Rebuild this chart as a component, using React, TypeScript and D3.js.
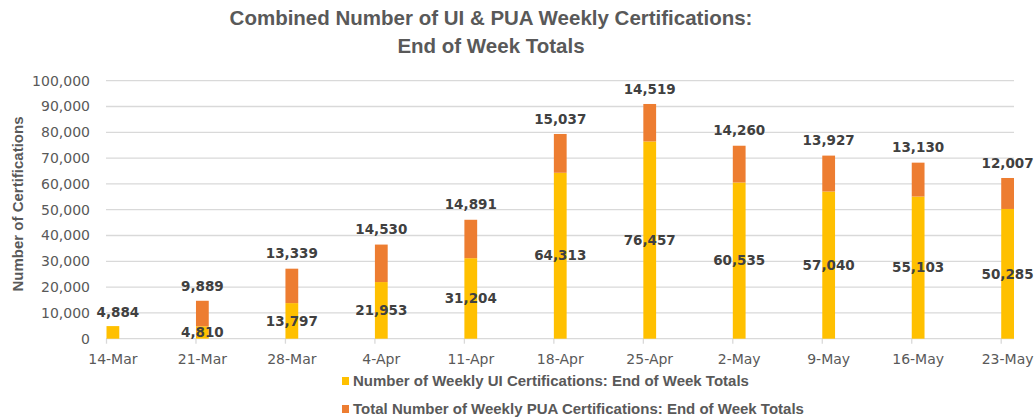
import React from "react";
import * as d3 from "d3";

const weeks: string[] = ["2020-03-14", "2020-03-21", "2020-03-28", "2020-04-04", "2020-04-11", "2020-04-18", "2020-04-25", "2020-05-02", "2020-05-09", "2020-05-16", "2020-05-23"];
const uiValues: number[] = [4884, 4810, 13797, 21953, 31204, 64313, 76457, 60535, 57040, 55103, 50285];
const puaValues: number[] = [0, 9889, 13339, 14530, 14891, 15037, 14519, 14260, 13927, 13130, 12007];
const yTicks: number[] = [0, 10000, 20000, 30000, 40000, 50000, 60000, 70000, 80000, 90000, 100000];
const titleLines: string[] = ["Combined Number of UI & PUA Weekly Certifications:", "End of Week Totals"];
const legendLabels: string[] = [
  "Number of Weekly UI Certifications: End of Week Totals",
  "Total Number of Weekly PUA Certifications: End of Week Totals",
];

const W = 1034;
const H = 420;
const TEXT = "#595959";
const LABEL = "#404040";
const GRID = "#D9D9D9";
const UI_COLOR = "#FFC000";
const PUA_COLOR = "#ED7D31";

export default function App() {
  const parse = d3.utcParse("%Y-%m-%d");
  const dates = weeks.map((w) => parse(w) as Date);
  const start = dates[0];
  const end = d3.utcDay.offset(dates[dates.length - 1], 1);
  const x = d3.scaleUtc().domain([start, end]).range([106.5, 1014]);
  const y = d3.scaleLinear().domain([0, 100000]).range([338.7, 80.7]);
  const fmt = d3.format(",");
  const dfmt = d3.utcFormat("%-d-%b");

  const bars = dates.map((d, i) => {
    const x0 = x(d);
    const x1 = x(d3.utcDay.offset(d, 1));
    return { d, i, x0, x1, cx: (x0 + x1) / 2, ui: uiValues[i], pua: puaValues[i] };
  });

  const tickFont = "'DejaVu Sans', sans-serif";
  const calFont = "'Liberation Sans', Arial, sans-serif";

  return (
    <svg width={W} height={H} style={{ position: "absolute", left: 0, top: 0, background: "#fff" }}>
      <rect x={0} y={0} width={W} height={H} fill="#fff" />
      {titleLines.map((t, i) => (
        <text key={i} x={491} y={25 + i * 28} textAnchor="middle" fontFamily={calFont} fontWeight="bold" fontSize={20.5} fill={TEXT}>
          {t}
        </text>
      ))}
      {yTicks.map((t) => (
        <g key={t}>
          <line x1={106} x2={1014} y1={y(t)} y2={y(t)} stroke={GRID} strokeWidth={1.3} />
          <text x={90} y={y(t)} dy="0.35em" textAnchor="end" fontFamily={tickFont} fontSize={14} fill={TEXT}>
            {fmt(t)}
          </text>
        </g>
      ))}
      <text transform={`translate(23,204) rotate(-90)`} textAnchor="middle" fontFamily={calFont} fontWeight="bold" fontSize={15} fill={TEXT}>
        Number of Certifications
      </text>
      {bars.map((b) => (
        <g key={b.i}>
          <line x1={b.x0} x2={b.x0} y1={y(0)} y2={y(0) + 5} stroke={GRID} strokeWidth={1.3} />
          <rect x={b.x0} width={b.x1 - b.x0} y={y(b.ui)} height={y(0) - y(b.ui)} fill={UI_COLOR} />
          {b.pua > 0 && (
            <rect x={b.x0} width={b.x1 - b.x0} y={y(b.ui + b.pua)} height={y(b.ui) - y(b.ui + b.pua)} fill={PUA_COLOR} />
          )}
          <text x={b.cx} y={y(0) + 25} textAnchor="middle" fontFamily={tickFont} fontSize={14} fill={TEXT}>
            {dfmt(b.d)}
          </text>
        </g>
      ))}
      {bars.map((b) => (
        <g key={"l" + b.i}>
          <text
            x={b.pua > 0 ? b.cx : b.cx + 5}
            y={b.pua > 0 ? (y(0) + y(b.ui)) / 2 : y(b.ui) - 14}
            dy="0.35em"
            textAnchor="middle"
            fontFamily={tickFont}
            fontWeight="bold"
            fontSize={13.5}
            fill={LABEL}
          >
            {fmt(b.ui)}
          </text>
          {b.pua > 0 && (
            <text x={b.cx} y={y(b.ui + b.pua) - 15} dy="0.35em" textAnchor="middle" fontFamily={tickFont} fontWeight="bold" fontSize={13.5} fill={LABEL}>
              {fmt(b.pua)}
            </text>
          )}
        </g>
      ))}
      {legendLabels.map((l, i) => (
        <g key={l} transform={`translate(342,${381 + i * 28})`}>
          <rect x={0} y={-4} width={7} height={8} fill={i === 0 ? UI_COLOR : PUA_COLOR} />
          <text x={11} y={0} dy="0.36em" fontFamily={calFont} fontWeight="bold" fontSize={15} fill={TEXT}>
            {l}
          </text>
        </g>
      ))}
    </svg>
  );
}
